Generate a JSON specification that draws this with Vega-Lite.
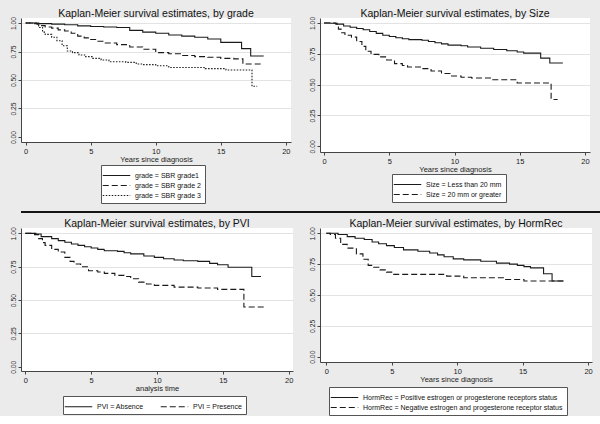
{
  "$schema": "https://vega.github.io/schema/vega-lite/v6.json",
  "background": "#ebebeb",
  "padding": {"left": 9, "top": 8, "right": 0, "bottom": 0},
  "config": {
    "font": "Liberation Sans",
    "view": {"fill": "#ffffff", "stroke": null},
    "title": {"fontSize": 10.5, "fontWeight": "normal", "color": "#111111", "anchor": "middle", "offset": -3},
    "axis": {
      "domainColor": "#444444", "domainWidth": 1,
      "tickColor": "#444444", "tickSize": 3,
      "labelFontSize": 7.5, "labelColor": "#222222", "labelPadding": 2,
      "titleFontSize": 7.5, "titleFontWeight": "normal", "titleColor": "#222222", "titlePadding": 1,
      "gridColor": "#e3e3e3", "gridWidth": 1
    },
    "axisX": {"grid": false},
    "axisY": {"grid": true, "format": ".2f", "labelAngle": 270, "labelAlign": "center", "labelBaseline": "bottom", "labelFontSize": 6.8, "title": null,
      "gridOpacity": {"condition": {"test": "datum.value === 0", "value": 0}, "value": 1}},
    "legend": {
      "orient": "none", "title": null,
      "strokeColor": "#555555", "fillColor": "#ffffff", "padding": 4,
      "symbolType": "M-2.5,0H2.5", "symbolSize": 121, "symbolStrokeWidth": 1.1, "symbolStrokeColor": "#1a1a1a",
      "labelFontSize": 7, "labelColor": "#111111", "labelLimit": 400, "labelOffset": 12, "symbolOffset": 5,
      "rowPadding": 0, "columnPadding": 14
    },
    "line": {"interpolate": "step-after", "strokeWidth": 1.1, "color": "#1a1a1a"}
  },
  "datasets": {
    "grade": [
      {"g": "grade = SBR grade1", "t": 0, "s": 1}, {"g": "grade = SBR grade1", "t": 1, "s": 0.995}, {"g": "grade = SBR grade1", "t": 2, "s": 0.99}, {"g": "grade = SBR grade1", "t": 3, "s": 0.985}, {"g": "grade = SBR grade1", "t": 4, "s": 0.975}, {"g": "grade = SBR grade1", "t": 5, "s": 0.97}, {"g": "grade = SBR grade1", "t": 6, "s": 0.965}, {"g": "grade = SBR grade1", "t": 7, "s": 0.96}, {"g": "grade = SBR grade1", "t": 8, "s": 0.935}, {"g": "grade = SBR grade1", "t": 9, "s": 0.92}, {"g": "grade = SBR grade1", "t": 10, "s": 0.91}, {"g": "grade = SBR grade1", "t": 11, "s": 0.895}, {"g": "grade = SBR grade1", "t": 12, "s": 0.885}, {"g": "grade = SBR grade1", "t": 13, "s": 0.875}, {"g": "grade = SBR grade1", "t": 14, "s": 0.86}, {"g": "grade = SBR grade1", "t": 15, "s": 0.83}, {"g": "grade = SBR grade1", "t": 16.6, "s": 0.775}, {"g": "grade = SBR grade1", "t": 17.3, "s": 0.71}, {"g": "grade = SBR grade1", "t": 18.3, "s": 0.71},
      {"g": "grade = SBR grade 2", "t": 0, "s": 1}, {"g": "grade = SBR grade 2", "t": 0.5, "s": 0.995}, {"g": "grade = SBR grade 2", "t": 1, "s": 0.977}, {"g": "grade = SBR grade 2", "t": 1.5, "s": 0.965}, {"g": "grade = SBR grade 2", "t": 2, "s": 0.955}, {"g": "grade = SBR grade 2", "t": 2.5, "s": 0.94}, {"g": "grade = SBR grade 2", "t": 3, "s": 0.93}, {"g": "grade = SBR grade 2", "t": 3.5, "s": 0.91}, {"g": "grade = SBR grade 2", "t": 4, "s": 0.885}, {"g": "grade = SBR grade 2", "t": 4.5, "s": 0.87}, {"g": "grade = SBR grade 2", "t": 5, "s": 0.855}, {"g": "grade = SBR grade 2", "t": 5.5, "s": 0.84}, {"g": "grade = SBR grade 2", "t": 6, "s": 0.825}, {"g": "grade = SBR grade 2", "t": 7, "s": 0.81}, {"g": "grade = SBR grade 2", "t": 8, "s": 0.79}, {"g": "grade = SBR grade 2", "t": 9, "s": 0.77}, {"g": "grade = SBR grade 2", "t": 10, "s": 0.74}, {"g": "grade = SBR grade 2", "t": 11, "s": 0.73}, {"g": "grade = SBR grade 2", "t": 12, "s": 0.715}, {"g": "grade = SBR grade 2", "t": 13, "s": 0.705}, {"g": "grade = SBR grade 2", "t": 14, "s": 0.7}, {"g": "grade = SBR grade 2", "t": 15, "s": 0.69}, {"g": "grade = SBR grade 2", "t": 16, "s": 0.685}, {"g": "grade = SBR grade 2", "t": 16.7, "s": 0.64}, {"g": "grade = SBR grade 2", "t": 18.1, "s": 0.64},
      {"g": "grade = SBR grade 3", "t": 0, "s": 1}, {"g": "grade = SBR grade 3", "t": 0.8, "s": 0.99}, {"g": "grade = SBR grade 3", "t": 1, "s": 0.96}, {"g": "grade = SBR grade 3", "t": 1.3, "s": 0.92}, {"g": "grade = SBR grade 3", "t": 1.5, "s": 0.9}, {"g": "grade = SBR grade 3", "t": 2, "s": 0.875}, {"g": "grade = SBR grade 3", "t": 2.4, "s": 0.845}, {"g": "grade = SBR grade 3", "t": 2.8, "s": 0.8}, {"g": "grade = SBR grade 3", "t": 3.2, "s": 0.755}, {"g": "grade = SBR grade 3", "t": 3.6, "s": 0.74}, {"g": "grade = SBR grade 3", "t": 4.1, "s": 0.72}, {"g": "grade = SBR grade 3", "t": 4.6, "s": 0.705}, {"g": "grade = SBR grade 3", "t": 5.1, "s": 0.69}, {"g": "grade = SBR grade 3", "t": 5.8, "s": 0.675}, {"g": "grade = SBR grade 3", "t": 6.4, "s": 0.66}, {"g": "grade = SBR grade 3", "t": 7.7, "s": 0.655}, {"g": "grade = SBR grade 3", "t": 8.5, "s": 0.64}, {"g": "grade = SBR grade 3", "t": 9, "s": 0.635}, {"g": "grade = SBR grade 3", "t": 10, "s": 0.625}, {"g": "grade = SBR grade 3", "t": 11, "s": 0.61}, {"g": "grade = SBR grade 3", "t": 13.8, "s": 0.6}, {"g": "grade = SBR grade 3", "t": 15.4, "s": 0.588}, {"g": "grade = SBR grade 3", "t": 17.4, "s": 0.445}, {"g": "grade = SBR grade 3", "t": 17.8, "s": 0.445}
    ],
    "size": [
      {"g": "Size = Less than 20 mm", "t": 0, "s": 1}, {"g": "Size = Less than 20 mm", "t": 0.5, "s": 0.998}, {"g": "Size = Less than 20 mm", "t": 1, "s": 0.99}, {"g": "Size = Less than 20 mm", "t": 1.5, "s": 0.975}, {"g": "Size = Less than 20 mm", "t": 2, "s": 0.965}, {"g": "Size = Less than 20 mm", "t": 2.5, "s": 0.955}, {"g": "Size = Less than 20 mm", "t": 3, "s": 0.945}, {"g": "Size = Less than 20 mm", "t": 3.5, "s": 0.93}, {"g": "Size = Less than 20 mm", "t": 4, "s": 0.915}, {"g": "Size = Less than 20 mm", "t": 4.5, "s": 0.9}, {"g": "Size = Less than 20 mm", "t": 5, "s": 0.89}, {"g": "Size = Less than 20 mm", "t": 5.5, "s": 0.88}, {"g": "Size = Less than 20 mm", "t": 6, "s": 0.872}, {"g": "Size = Less than 20 mm", "t": 6.5, "s": 0.865}, {"g": "Size = Less than 20 mm", "t": 7.5, "s": 0.86}, {"g": "Size = Less than 20 mm", "t": 8, "s": 0.85}, {"g": "Size = Less than 20 mm", "t": 8.5, "s": 0.84}, {"g": "Size = Less than 20 mm", "t": 9, "s": 0.83}, {"g": "Size = Less than 20 mm", "t": 9.5, "s": 0.82}, {"g": "Size = Less than 20 mm", "t": 10.5, "s": 0.815}, {"g": "Size = Less than 20 mm", "t": 11, "s": 0.805}, {"g": "Size = Less than 20 mm", "t": 12, "s": 0.795}, {"g": "Size = Less than 20 mm", "t": 13, "s": 0.785}, {"g": "Size = Less than 20 mm", "t": 14, "s": 0.775}, {"g": "Size = Less than 20 mm", "t": 14.8, "s": 0.765}, {"g": "Size = Less than 20 mm", "t": 15.3, "s": 0.755}, {"g": "Size = Less than 20 mm", "t": 16.6, "s": 0.715}, {"g": "Size = Less than 20 mm", "t": 17.3, "s": 0.675}, {"g": "Size = Less than 20 mm", "t": 18.3, "s": 0.675},
      {"g": "Size = 20 mm or greater", "t": 0, "s": 1}, {"g": "Size = 20 mm or greater", "t": 0.9, "s": 0.99}, {"g": "Size = 20 mm or greater", "t": 1.1, "s": 0.95}, {"g": "Size = 20 mm or greater", "t": 1.3, "s": 0.92}, {"g": "Size = 20 mm or greater", "t": 1.6, "s": 0.9}, {"g": "Size = 20 mm or greater", "t": 2.1, "s": 0.885}, {"g": "Size = 20 mm or greater", "t": 2.5, "s": 0.85}, {"g": "Size = 20 mm or greater", "t": 2.9, "s": 0.81}, {"g": "Size = 20 mm or greater", "t": 3.2, "s": 0.77}, {"g": "Size = 20 mm or greater", "t": 3.6, "s": 0.745}, {"g": "Size = 20 mm or greater", "t": 4.2, "s": 0.725}, {"g": "Size = 20 mm or greater", "t": 4.8, "s": 0.7}, {"g": "Size = 20 mm or greater", "t": 5.4, "s": 0.67}, {"g": "Size = 20 mm or greater", "t": 6, "s": 0.655}, {"g": "Size = 20 mm or greater", "t": 6.4, "s": 0.643}, {"g": "Size = 20 mm or greater", "t": 7.5, "s": 0.63}, {"g": "Size = 20 mm or greater", "t": 8.2, "s": 0.61}, {"g": "Size = 20 mm or greater", "t": 9, "s": 0.59}, {"g": "Size = 20 mm or greater", "t": 9.7, "s": 0.57}, {"g": "Size = 20 mm or greater", "t": 10.5, "s": 0.56}, {"g": "Size = 20 mm or greater", "t": 11.3, "s": 0.554}, {"g": "Size = 20 mm or greater", "t": 12.8, "s": 0.54}, {"g": "Size = 20 mm or greater", "t": 14.8, "s": 0.513}, {"g": "Size = 20 mm or greater", "t": 17.4, "s": 0.38}, {"g": "Size = 20 mm or greater", "t": 17.9, "s": 0.38}
    ],
    "pvi": [
      {"g": "PVI = Absence", "t": 0, "s": 1}, {"g": "PVI = Absence", "t": 0.8, "s": 0.995}, {"g": "PVI = Absence", "t": 1.2, "s": 0.975}, {"g": "PVI = Absence", "t": 2, "s": 0.96}, {"g": "PVI = Absence", "t": 2.5, "s": 0.945}, {"g": "PVI = Absence", "t": 3, "s": 0.933}, {"g": "PVI = Absence", "t": 3.5, "s": 0.92}, {"g": "PVI = Absence", "t": 4, "s": 0.91}, {"g": "PVI = Absence", "t": 4.5, "s": 0.9}, {"g": "PVI = Absence", "t": 5, "s": 0.89}, {"g": "PVI = Absence", "t": 5.5, "s": 0.88}, {"g": "PVI = Absence", "t": 6, "s": 0.87}, {"g": "PVI = Absence", "t": 7, "s": 0.865}, {"g": "PVI = Absence", "t": 7.5, "s": 0.855}, {"g": "PVI = Absence", "t": 8, "s": 0.846}, {"g": "PVI = Absence", "t": 9, "s": 0.83}, {"g": "PVI = Absence", "t": 9.8, "s": 0.82}, {"g": "PVI = Absence", "t": 10.5, "s": 0.81}, {"g": "PVI = Absence", "t": 11.3, "s": 0.8}, {"g": "PVI = Absence", "t": 12, "s": 0.795}, {"g": "PVI = Absence", "t": 13.1, "s": 0.79}, {"g": "PVI = Absence", "t": 14, "s": 0.775}, {"g": "PVI = Absence", "t": 14.6, "s": 0.765}, {"g": "PVI = Absence", "t": 15.4, "s": 0.746}, {"g": "PVI = Absence", "t": 17.2, "s": 0.676}, {"g": "PVI = Absence", "t": 17.9, "s": 0.676},
      {"g": "PVI = Presence", "t": 0, "s": 1}, {"g": "PVI = Presence", "t": 0.7, "s": 0.99}, {"g": "PVI = Presence", "t": 1, "s": 0.96}, {"g": "PVI = Presence", "t": 1.3, "s": 0.93}, {"g": "PVI = Presence", "t": 1.5, "s": 0.91}, {"g": "PVI = Presence", "t": 2, "s": 0.88}, {"g": "PVI = Presence", "t": 2.5, "s": 0.86}, {"g": "PVI = Presence", "t": 3, "s": 0.82}, {"g": "PVI = Presence", "t": 3.4, "s": 0.79}, {"g": "PVI = Presence", "t": 3.7, "s": 0.77}, {"g": "PVI = Presence", "t": 4.2, "s": 0.75}, {"g": "PVI = Presence", "t": 4.8, "s": 0.72}, {"g": "PVI = Presence", "t": 5.5, "s": 0.71}, {"g": "PVI = Presence", "t": 6, "s": 0.7}, {"g": "PVI = Presence", "t": 6.8, "s": 0.685}, {"g": "PVI = Presence", "t": 7.5, "s": 0.676}, {"g": "PVI = Presence", "t": 8, "s": 0.66}, {"g": "PVI = Presence", "t": 8.6, "s": 0.634}, {"g": "PVI = Presence", "t": 9.2, "s": 0.62}, {"g": "PVI = Presence", "t": 9.8, "s": 0.61}, {"g": "PVI = Presence", "t": 11.3, "s": 0.597}, {"g": "PVI = Presence", "t": 13.1, "s": 0.59}, {"g": "PVI = Presence", "t": 14.6, "s": 0.58}, {"g": "PVI = Presence", "t": 16.6, "s": 0.448}, {"g": "PVI = Presence", "t": 18.3, "s": 0.448}
    ],
    "horm": [
      {"g": "HormRec = Positive estrogen or progesterone receptors status", "t": 0, "s": 1}, {"g": "HormRec = Positive estrogen or progesterone receptors status", "t": 0.9, "s": 0.99}, {"g": "HormRec = Positive estrogen or progesterone receptors status", "t": 1.6, "s": 0.973}, {"g": "HormRec = Positive estrogen or progesterone receptors status", "t": 2.2, "s": 0.96}, {"g": "HormRec = Positive estrogen or progesterone receptors status", "t": 2.9, "s": 0.95}, {"g": "HormRec = Positive estrogen or progesterone receptors status", "t": 3.5, "s": 0.93}, {"g": "HormRec = Positive estrogen or progesterone receptors status", "t": 4, "s": 0.915}, {"g": "HormRec = Positive estrogen or progesterone receptors status", "t": 4.6, "s": 0.9}, {"g": "HormRec = Positive estrogen or progesterone receptors status", "t": 5.2, "s": 0.885}, {"g": "HormRec = Positive estrogen or progesterone receptors status", "t": 5.9, "s": 0.866}, {"g": "HormRec = Positive estrogen or progesterone receptors status", "t": 7, "s": 0.855}, {"g": "HormRec = Positive estrogen or progesterone receptors status", "t": 7.9, "s": 0.84}, {"g": "HormRec = Positive estrogen or progesterone receptors status", "t": 8.5, "s": 0.825}, {"g": "HormRec = Positive estrogen or progesterone receptors status", "t": 9, "s": 0.81}, {"g": "HormRec = Positive estrogen or progesterone receptors status", "t": 9.7, "s": 0.793}, {"g": "HormRec = Positive estrogen or progesterone receptors status", "t": 10.5, "s": 0.785}, {"g": "HormRec = Positive estrogen or progesterone receptors status", "t": 11.8, "s": 0.774}, {"g": "HormRec = Positive estrogen or progesterone receptors status", "t": 13, "s": 0.758}, {"g": "HormRec = Positive estrogen or progesterone receptors status", "t": 14, "s": 0.75}, {"g": "HormRec = Positive estrogen or progesterone receptors status", "t": 14.6, "s": 0.74}, {"g": "HormRec = Positive estrogen or progesterone receptors status", "t": 15.1, "s": 0.73}, {"g": "HormRec = Positive estrogen or progesterone receptors status", "t": 15.6, "s": 0.72}, {"g": "HormRec = Positive estrogen or progesterone receptors status", "t": 16.6, "s": 0.672}, {"g": "HormRec = Positive estrogen or progesterone receptors status", "t": 17.25, "s": 0.613}, {"g": "HormRec = Positive estrogen or progesterone receptors status", "t": 18.1, "s": 0.613},
      {"g": "HormRec = Negative estrogen and progesterone receptor status", "t": 0, "s": 1}, {"g": "HormRec = Negative estrogen and progesterone receptor status", "t": 0.3, "s": 0.99}, {"g": "HormRec = Negative estrogen and progesterone receptor status", "t": 0.7, "s": 0.96}, {"g": "HormRec = Negative estrogen and progesterone receptor status", "t": 1.1, "s": 0.91}, {"g": "HormRec = Negative estrogen and progesterone receptor status", "t": 1.6, "s": 0.88}, {"g": "HormRec = Negative estrogen and progesterone receptor status", "t": 2.3, "s": 0.833}, {"g": "HormRec = Negative estrogen and progesterone receptor status", "t": 2.8, "s": 0.79}, {"g": "HormRec = Negative estrogen and progesterone receptor status", "t": 3.2, "s": 0.74}, {"g": "HormRec = Negative estrogen and progesterone receptor status", "t": 3.6, "s": 0.725}, {"g": "HormRec = Negative estrogen and progesterone receptor status", "t": 4.1, "s": 0.704}, {"g": "HormRec = Negative estrogen and progesterone receptor status", "t": 4.6, "s": 0.685}, {"g": "HormRec = Negative estrogen and progesterone receptor status", "t": 5, "s": 0.667}, {"g": "HormRec = Negative estrogen and progesterone receptor status", "t": 9.2, "s": 0.653}, {"g": "HormRec = Negative estrogen and progesterone receptor status", "t": 10.5, "s": 0.64}, {"g": "HormRec = Negative estrogen and progesterone receptor status", "t": 13.6, "s": 0.626}, {"g": "HormRec = Negative estrogen and progesterone receptor status", "t": 15.1, "s": 0.613}, {"g": "HormRec = Negative estrogen and progesterone receptor status", "t": 18.3, "s": 0.613}
    ]
  },
  "vconcat": [
    {
      "vconcat": [
        {
          "hconcat": [
            {
              "title": "Kaplan-Meier survival estimates, by grade",
              "width": 270, "height": 124,
              "data": {"name": "grade"},
              "mark": {"type": "line"},
              "encoding": {
                "x": {"field": "t", "type": "quantitative", "scale": {"domain": [-0.36, 20.4], "nice": false, "zero": false}, "axis": {"title": "Years since diagnosis", "values": [0, 5, 10, 15, 20]}},
                "y": {"field": "s", "type": "quantitative", "scale": {"domain": [-0.044, 1.044], "nice": false, "zero": false}, "axis": {"values": [0, 0.25, 0.5, 0.75, 1]}},
                "strokeDash": {"field": "g", "type": "nominal", "scale": {"domain": ["grade = SBR grade1", "grade = SBR grade 2", "grade = SBR grade 3"], "range": [[1, 0], [6, 3], [1.5, 1.5]]}, "legend": {"legendX": 80, "legendY": 147}}
              }
            },
            {
              "title": "Kaplan-Meier survival estimates, by Size",
              "width": 270, "height": 134,
              "data": {"name": "size"},
              "mark": {"type": "line"},
              "encoding": {
                "x": {"field": "t", "type": "quantitative", "scale": {"domain": [-0.31, 20.38], "nice": false, "zero": false}, "axis": {"title": "Years since diagnosis", "values": [0, 5, 10, 15, 20]}},
                "y": {"field": "s", "type": "quantitative", "scale": {"domain": [-0.046, 1.04], "nice": false, "zero": false}, "axis": {"values": [0, 0.25, 0.5, 0.75, 1]}},
                "strokeDash": {"field": "g", "type": "nominal", "scale": {"domain": ["Size = Less than 20 mm", "Size = 20 mm or greater"], "range": [[1, 0], [6, 3]]}, "legend": {"legendX": 72, "legendY": 156}}
              }
            }
          ],
          "spacing": 17,
          "resolve": {"scale": {"strokeDash": "independent", "x": "independent", "y": "independent"}, "legend": {"strokeDash": "independent"}}
        },
        {
          "width": 591, "height": 2,
          "data": {"values": []},
          "mark": {"type": "rule"},
          "encoding": {},
          "view": {"fill": "#151515", "stroke": null}
        }
      ],
      "spacing": 7,
      "resolve": {"scale": {"strokeDash": "independent"}, "legend": {"strokeDash": "independent"}}
    },
    {
      "hconcat": [
        {
          "title": "Kaplan-Meier survival estimates, by PVI",
          "width": 272, "height": 143,
          "data": {"name": "pvi"},
          "mark": {"type": "line"},
          "encoding": {
            "x": {"field": "t", "type": "quantitative", "scale": {"domain": [-0.33, 20.33], "nice": false, "zero": false}, "axis": {"title": "analysis time", "values": [0, 5, 10, 15, 20]}},
            "y": {"field": "s", "type": "quantitative", "scale": {"domain": [-0.032, 1.04], "nice": false, "zero": false}, "axis": {"values": [0, 0.25, 0.5, 0.75, 1]}},
            "strokeDash": {"field": "g", "type": "nominal", "scale": {"domain": ["PVI = Absence", "PVI = Presence"], "range": [[1, 0], [6, 3]]}, "legend": {"legendX": 42, "legendY": 168, "direction": "horizontal"}}
          }
        },
        {
          "title": "Kaplan-Meier survival estimates, by HormRec",
          "width": 272, "height": 134,
          "data": {"name": "horm"},
          "mark": {"type": "line"},
          "encoding": {
            "x": {"field": "t", "type": "quantitative", "scale": {"domain": [-0.48, 20.3], "nice": false, "zero": false}, "axis": {"title": "Years since diagnosis", "values": [0, 5, 10, 15, 20]}},
            "y": {"field": "s", "type": "quantitative", "scale": {"domain": [-0.043, 1.043], "nice": false, "zero": false}, "axis": {"values": [0, 0.25, 0.5, 0.75, 1]}},
            "strokeDash": {"field": "g", "type": "nominal", "scale": {"domain": ["HormRec = Positive estrogen or progesterone receptors status", "HormRec = Negative estrogen and progesterone receptor status"], "range": [[1, 0], [6, 3]]}, "legend": {"legendX": 9, "legendY": 159}}
          }
        }
      ],
      "spacing": 15,
      "resolve": {"scale": {"strokeDash": "independent", "x": "independent", "y": "independent"}, "legend": {"strokeDash": "independent"}}
    }
  ],
  "spacing": 6,
  "resolve": {"scale": {"strokeDash": "independent"}, "legend": {"strokeDash": "independent"}}
}
